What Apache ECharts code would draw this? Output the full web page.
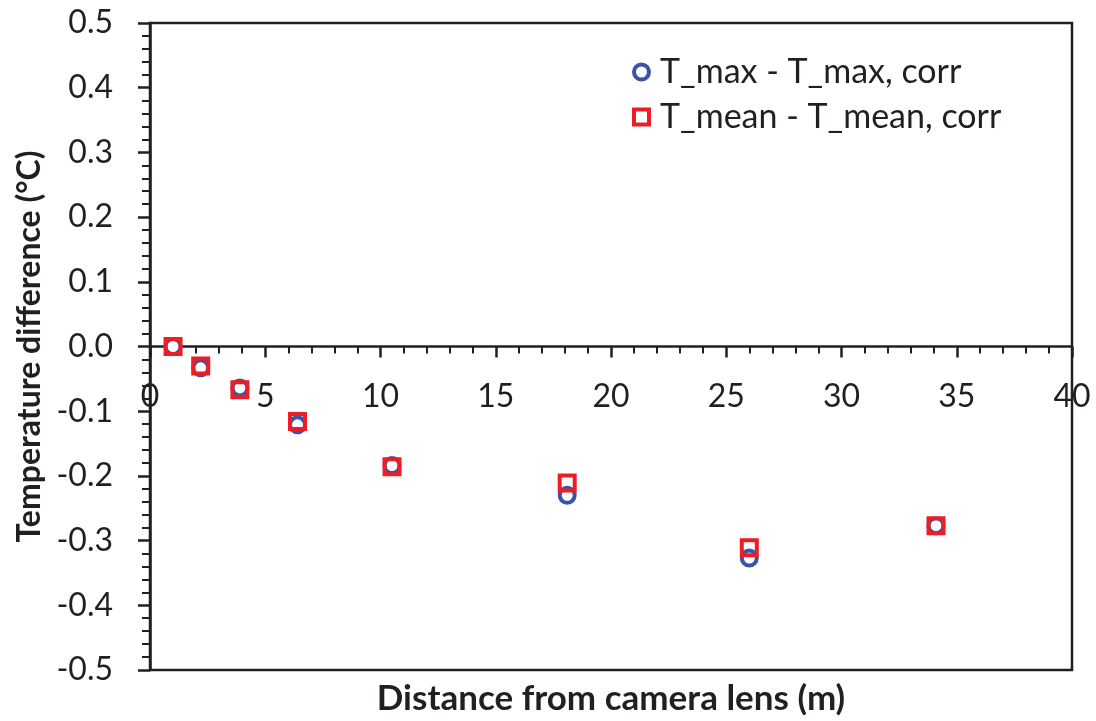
<!DOCTYPE html>
<html>
<head>
<meta charset="utf-8">
<script src="https://cdn.jsdelivr.net/npm/echarts@6/dist/echarts.min.js"></script>
<style>
  html, body { margin: 0; padding: 0; background: #fff; }
  #chart { width: 1096px; height: 721px; }
</style>
</head>
<body>
<div id="chart"></div>
<script>
// Distance from the lens (m) for each measurement position
const distances = [1.0, 2.2, 3.9, 6.4, 10.5, 18.1, 26.0, 34.1];
// T_max - T_max,corr (°C)
const tMaxDiff = [0.000, -0.033, -0.064, -0.121, -0.184, -0.230, -0.327, -0.277];
// T_mean - T_mean,corr (°C)
const tMeanDiff = [0.000, -0.030, -0.067, -0.116, -0.186, -0.211, -0.311, -0.277];

const seriesNames = ['T_max - T_max, corr', 'T_mean - T_mean, corr'];
const xTitle = 'Distance from camera lens (m)';
const yTitle = 'Temperature difference (°C)';

const FONT = 'Lato';
const INK = '#231f20';
const BLUE = '#3a55a5';
const RED = '#ee1c25';

const GRID = { left: 150, right: 24, top: 23, bottom: 51 };
const H = 721;
// the distance axis is drawn through y = 0, i.e. halfway up the plot
const zeroOffset = -(H - GRID.top - GRID.bottom) / 2;

const pairs = (xs, ys) => xs.map((x, i) => [x, ys[i]]);

const chart = echarts.init(document.getElementById('chart'), null, { renderer: 'canvas' });

chart.setOption({
  animation: false,
  backgroundColor: '#fff',
  textStyle: { fontFamily: FONT, color: INK },
  grid: Object.assign({
    outerBoundsMode: 'none',
    show: true, borderColor: INK, borderWidth: 2.5, backgroundColor: 'transparent'
  }, GRID),
  legend: {
    orient: 'vertical',
    left: 627, top: 50,
    itemWidth: 15, itemHeight: 15, itemGap: 11,
    textStyle: { fontFamily: FONT, fontSize: 34, color: INK, padding: [0, 0, 0, 6] },
    data: [
      { name: seriesNames[0], itemStyle: { borderWidth: 4 } },
      { name: seriesNames[1], itemStyle: { borderWidth: 4 } }
    ]
  },
  xAxis: [{
    type: 'value',
    position: 'bottom',
    offset: zeroOffset,
    min: 0, max: 40, interval: 5,
    axisLine: { onZero: false, lineStyle: { color: INK, width: 2.5 } },
    axisTick: { inside: false, length: 11, lineStyle: { color: INK, width: 2.5 } },
    minorTick: { show: true, splitNumber: 5, length: 7, lineStyle: { color: INK, width: 2 } },
    splitLine: { show: false },
    axisLabel: { fontFamily: FONT, fontSize: 32, color: INK, margin: 34 }
  }, {
    type: 'value',
    position: 'bottom',
    min: 0, max: 40,
    axisLine: { show: false, onZero: false },
    axisTick: { show: false },
    axisLabel: { show: false },
    splitLine: { show: false },
    name: xTitle,
    nameLocation: 'middle',
    nameGap: 11,
    nameTextStyle: { fontFamily: FONT, fontSize: 35, fontWeight: 'bold', color: INK, verticalAlign: 'top' }
  }],
  yAxis: {
    type: 'value',
    min: -0.5, max: 0.5, interval: 0.1,
    axisLine: { onZero: false, lineStyle: { color: INK, width: 2.5 } },
    axisTick: { inside: false, length: 12, lineStyle: { color: INK, width: 2.5 } },
    minorTick: { show: true, splitNumber: 5, length: 8, lineStyle: { color: INK, width: 2 } },
    splitLine: { show: false },
    axisLabel: {
      fontFamily: FONT, fontSize: 32, color: INK, margin: 37,
      formatter: v => v.toFixed(1)
    },
    name: yTitle,
    nameLocation: 'middle',
    nameRotate: 90,
    nameGap: 104,
    nameTextStyle: { fontFamily: FONT, fontSize: 32, fontWeight: 'bold', color: INK }
  },
  series: [{
    name: seriesNames[0],
    type: 'scatter',
    xAxisIndex: 0,
    symbol: 'circle',
    symbolSize: 15,
    itemStyle: { color: '#fff', borderColor: BLUE, borderWidth: 4, opacity: 1 },
    data: pairs(distances, tMaxDiff),
    z: 2
  }, {
    name: seriesNames[1],
    type: 'scatter',
    xAxisIndex: 0,
    symbol: 'rect',
    symbolSize: 15,
    itemStyle: { color: 'rgba(255,255,255,0)', borderColor: RED, borderWidth: 4, opacity: 1 },
    data: pairs(distances, tMeanDiff),
    z: 3
  }]
});
</script>
</body>
</html>
